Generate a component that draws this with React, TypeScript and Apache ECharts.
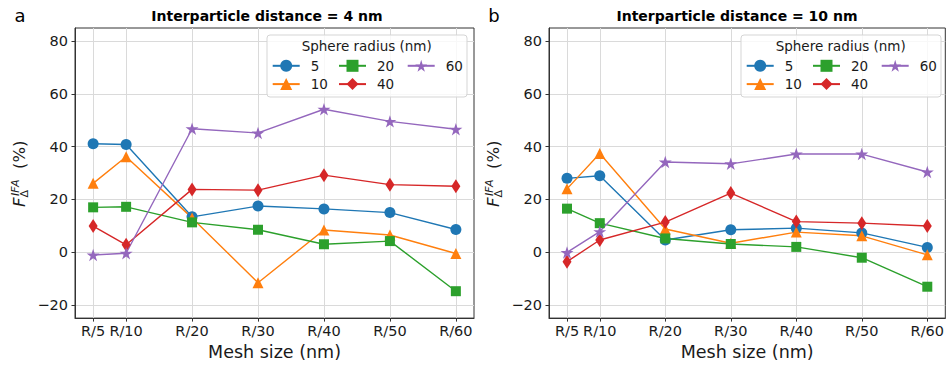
import React, { useEffect, useRef } from "react";
import * as echarts from "echarts";

const xValues = [5, 10, 20, 30, 40, 50, 60];
const xLabels = ["R/5", "R/10", "R/20", "R/30", "R/40", "R/50", "R/60"];
const yTicks = [-20, 0, 20, 40, 60, 80];
const radii = ["5", "10", "20", "40", "60"];

// Panel a: interparticle distance = 4 nm
const a5 = [41.1, 40.8, 13.4, 17.5, 16.4, 15.0, 8.6];
const a10 = [26.1, 36.2, 13.0, -11.6, 8.4, 6.5, -0.5];
const a20 = [17.0, 17.2, 11.3, 8.5, 3.0, 4.2, -14.8];
const a40 = [9.9, 2.8, 23.8, 23.5, 29.2, 25.6, 25.0];
const a60 = [-1.1, -0.4, 46.8, 45.2, 54.2, 49.6, 46.6];

// Panel b: interparticle distance = 10 nm
const b5 = [28.0, 29.0, 4.6, 8.5, 9.1, 7.3, 1.8];
const b10 = [24.0, 37.4, 8.8, 3.4, 7.6, 6.2, -1.0];
const b20 = [16.5, 11.0, 5.2, 3.1, 2.0, -2.1, -13.1];
const b40 = [-3.6, 4.6, 11.4, 22.4, 11.6, 11.0, 9.9];
const b60 = [-0.1, 7.8, 34.2, 33.5, 37.2, 37.2, 30.4];

const panelTitles = ["Interparticle distance = 4 nm", "Interparticle distance = 10 nm"];
const panelLetters = ["a", "b"];

const colors = ["#1f77b4", "#ff7f0e", "#2ca02c", "#d62728", "#9467bd"];
const STAR =
  "path://M100,0L122.45,69.1L195.1,69.1L136.3,111.8L158.8,180.9L100,138.2L41.2,180.9L63.7,111.8L4.9,69.1L77.55,69.1Z";
const symbols: any[] = ["circle", "triangle", "rect", "diamond", STAR];
const symbolSizes: any[] = [11, 11, 10, [9, 14], [13, 12.4]];

const FONT = "DejaVu Sans";

export default function App() {
  const ref = useRef<HTMLDivElement>(null);
  useEffect(() => {
    if (!ref.current) return;
    const chart = echarts.init(ref.current, undefined, { renderer: "svg" });
    const panels = [
      [a5, a10, a20, a40, a60],
      [b5, b10, b20, b40, b60],
    ];
    const dx = 474;
    const grids = [0, 1].map((p) => ({
      left: 75 + p * dx,
      top: 28,
      width: 399,
      height: 293,
      show: true,
      borderColor: "#333",
      borderWidth: 1,
      backgroundColor: "transparent",
    }));
    const xAxes = [0, 1].map((p) => ({
      type: "value",
      gridIndex: p,
      min: 2.25,
      max: 62.75,
      name: "Mesh size (nm)",
      nameLocation: "middle",
      nameGap: 23,
      nameTextStyle: { fontSize: 17.5, color: "#1a1a1a", fontFamily: FONT },
      axisLine: { show: true, onZero: false, lineStyle: { color: "#333", width: 1 } },
      axisTick: { show: true, length: 3.5, customValues: xValues, lineStyle: { color: "#333" } },
      axisLabel: {
        customValues: xValues,
        formatter: (v: number) => xLabels[xValues.indexOf(v)] ?? "",
        fontSize: 14.5,
        color: "#1a1a1a",
        fontFamily: FONT,
        margin: 5,
      },
      splitLine: { show: true, lineStyle: { color: "#dadada", width: 1 } },
    }));
    const yAxes = [0, 1].map((p) => ({
      type: "value",
      gridIndex: p,
      min: -25,
      max: 85,
      axisLine: { show: true, onZero: false, lineStyle: { color: "#333", width: 1 } },
      axisTick: { show: true, length: 3.5, customValues: yTicks, lineStyle: { color: "#333" } },
      axisLabel: {
        customValues: yTicks,
        formatter: (v: number) => String(v).replace("-", "\u2212"),
        fontSize: 14.5,
        color: "#1a1a1a",
        fontFamily: FONT,
        margin: 7,
      },
      splitLine: { show: true, lineStyle: { color: "#dadada", width: 1 } },
    }));
    const series: any[] = [];
    panels.forEach((vals, p) => {
      vals.forEach((arr, i) => {
        series.push({
          type: "line",
          name: radii[i],
          xAxisIndex: p,
          yAxisIndex: p,
          data: xValues.map((x, k) => [x, arr[k]]),
          symbol: symbols[i],
          symbolSize: symbolSizes[i],
          showAllSymbol: true,
          lineStyle: { color: colors[i], width: 1.4 },
          itemStyle: { color: colors[i] },
          emphasis: { disabled: true },
        });
      });
    });
    const legendCols = [["5", "10"], ["20", "40"], ["60"]];
    const legendColX = [271.7, 338, 406.7];
    const legends: any[] = [];
    [0, 1].forEach((p) => {
      legendCols.forEach((col, c) => {
        legends.push({
          data: col,
          orient: "vertical",
          left: legendColX[c] + p * dx,
          top: 58.8,
          padding: 0,
          itemWidth: 27,
          itemHeight: 15,
          itemGap: 4.3,
          z: 20,
          selectedMode: false,
          textStyle: { fontSize: 13.5, color: "#1a1a1a", fontFamily: FONT, padding: [0, 0, 0, 6] },
        });
      });
    });
    const graphics: any[] = [];
    [0, 1].forEach((p) => {
      const ox = p * dx;
      graphics.push({
        type: "rect",
        shape: { x: 267 + ox, y: 35, width: 200, height: 62, r: 3 },
        style: { fill: "rgba(255,255,255,0.8)", stroke: "#d5d5d5", lineWidth: 1 },
        z: 5,
      });
      graphics.push({
        type: "text",
        x: 366.7 + ox,
        y: 45.7,
        style: { text: "Sphere radius (nm)", fontSize: 13.5, fontFamily: FONT, fill: "#1a1a1a", align: "center", verticalAlign: "middle" },
        z: 6,
      });
      graphics.push({
        type: "text",
        x: (p === 0 ? 267 : 737),
        y: 15.5,
        style: { text: panelTitles[p], fontSize: 14, fontWeight: "bold", fontFamily: FONT, fill: "#000", align: "center", verticalAlign: "middle" },
      });
      graphics.push({
        type: "text",
        x: 20 + ox,
        y: 15,
        style: { text: panelLetters[p], fontSize: 18, fontFamily: FONT, fill: "#000", align: "center", verticalAlign: "middle" },
      });
      graphics.push({
        type: "group",
        x: 19 + ox,
        y: 207,
        rotation: Math.PI / 2,
        children: [
          { type: "text", x: 0, y: 0, style: { text: "F", fontSize: 16.5, fontStyle: "italic", fontFamily: FONT, fill: "#1a1a1a", align: "left", verticalAlign: "middle" } },
          { type: "text", x: 11, y: -3.5, style: { text: "IFA", fontSize: 11, fontStyle: "italic", fontFamily: FONT, fill: "#1a1a1a", align: "left", verticalAlign: "middle" } },
          { type: "text", x: 9.5, y: 5, style: { text: "\u0394", fontSize: 11, fontFamily: FONT, fill: "#1a1a1a", align: "left", verticalAlign: "middle" } },
          { type: "text", x: 38, y: 0, style: { text: "(%)", fontSize: 16.5, fontFamily: FONT, fill: "#1a1a1a", align: "left", verticalAlign: "middle" } },
        ],
      });
    });
    chart.setOption({
      animation: false,
      backgroundColor: "#fff",
      grid: grids,
      xAxis: xAxes,
      yAxis: yAxes,
      series,
      legend: legends,
      graphic: graphics,
    });
    return () => chart.dispose();
  }, []);
  return <div ref={ref} style={{ position: "fixed", left: 0, top: 0, width: 947, height: 366 }} />;
}
